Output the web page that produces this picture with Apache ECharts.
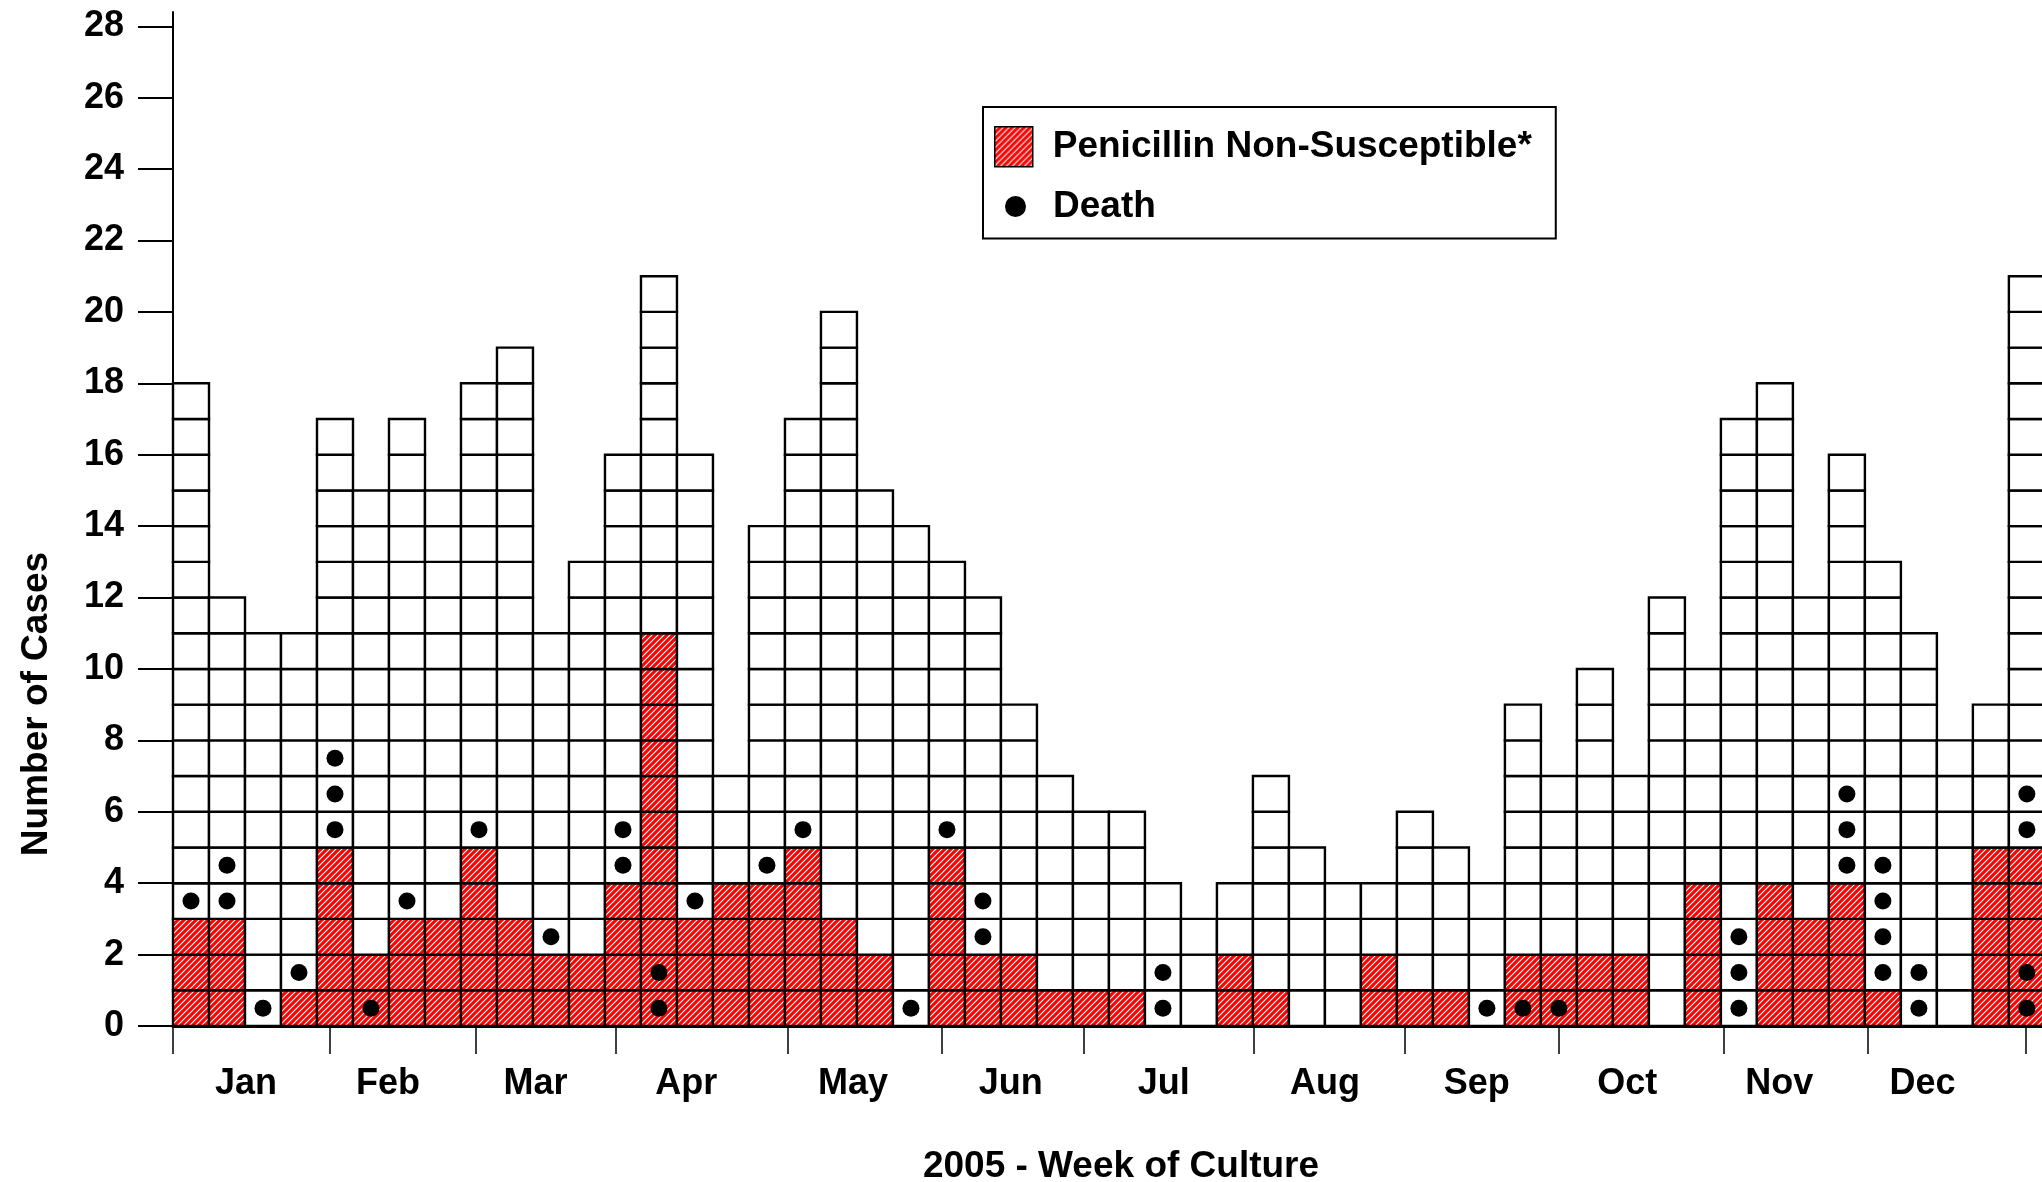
<!DOCTYPE html>
<html>
<head>
<meta charset="utf-8">
<title>Cases by week of culture, 2005</title>
<script src="https://cdn.jsdelivr.net/npm/echarts@6/dist/echarts.min.js"></script>
<style>
  html, body { margin: 0; padding: 0; background: #fff; }
  #chart { width: 2042px; height: 1182px; }
</style>
</head>
<body>
<div id="chart"></div>
<script>
  // cases per week of culture, 2005 (weeks 1..52)
  const totalCases = [18, 12, 11, 11, 17, 15, 17, 15, 18, 19, 11, 13, 16, 21, 16, 7, 14, 17, 20, 15,
    14, 13, 12, 9, 7, 6, 6, 4, 3, 4, 7, 5, 4, 4, 6, 5, 4, 9, 7, 10,
    7, 12, 10, 17, 18, 12, 16, 13, 11, 8, 9, 21]
  const pnsCases = [3, 3, 0, 1, 5, 2, 3, 3, 5, 3, 2, 2, 4, 11, 3, 4, 4, 5, 3, 2,
    0, 5, 2, 2, 1, 1, 1, 0, 0, 2, 1, 0, 0, 2, 1, 1, 0, 2, 2, 2,
    2, 0, 4, 0, 4, 3, 4, 1, 0, 0, 5, 5]
  // which cell (0 = bottom) of each week's stack is a death
  const deathCells = [[3], [3, 4], [0], [1], [5, 6, 7], [0], [3], [], [5], [], [2], [], [4, 5], [0, 1], [3], [], [4], [5], [], [],
    [0], [5], [2, 3], [], [], [], [], [0, 1], [], [], [], [], [], [], [], [], [0], [0], [0], [],
    [], [], [], [0, 1, 2], [], [], [4, 5, 6], [1, 2, 3, 4], [0, 1], [], [], [0, 1, 5, 6]]

  const monthNames = ['Jan', 'Feb', 'Mar', 'Apr', 'May', 'Jun', 'Jul', 'Aug', 'Sep', 'Oct', 'Nov', 'Dec']
  const monthTicks = [0, 4.35, 8.41, 12.3, 17.08, 21.36, 25.29, 30.03, 34.23, 38.49, 43.07, 47.08, 51.47]
  const monthLabelAt = [2.03, 5.97, 10.07, 14.26, 18.89, 23.27, 27.52, 32.0, 36.22, 40.4, 44.62, 48.6]
  const yTicks = [0, 2, 4, 6, 8, 10, 12, 14, 16, 18, 20, 22, 24, 26, 28]

  const font = '"Liberation Sans", Arial, sans-serif'

  function makeHatch() {
    const c = document.createElement('canvas')
    c.width = 6
    c.height = 6
    const ctx = c.getContext('2d')
    ctx.fillStyle = '#fff'
    ctx.fillRect(0, 0, 6, 6)
    ctx.strokeStyle = '#ff0000'
    ctx.lineWidth = 3.1
    ctx.beginPath()
    ctx.moveTo(-3, 3); ctx.lineTo(3, -3)
    ctx.moveTo(0, 6); ctx.lineTo(6, 0)
    ctx.moveTo(3, 9); ctx.lineTo(9, 3)
    ctx.stroke()
    return c
  }
  const hatch = { image: makeHatch(), repeat: 'repeat' }

  const cellData = totalCases.map((n, i) => [i, n, pnsCases[i]])
  const deathPoints = []
  deathCells.forEach((rows, i) => {
    rows.forEach(r => deathPoints.push([i + 0.5, r + 0.5]))
  })

  function nearestMonth(v) {
    let best = 0
    monthLabelAt.forEach((m, i) => {
      if (Math.abs(m - v) < Math.abs(monthLabelAt[best] - v)) best = i
    })
    return monthNames[best]
  }

  const chart = echarts.init(document.getElementById('chart'))
  chart.setOption({
    animation: false,
    textStyle: { fontFamily: font },
    grid: { left: 173, right: 0, top: 12, bottom: 156, outerBoundsMode: 'none' },
    legend: [
      {
        left: 983,
        top: 107,
        orient: 'vertical',
        selectedMode: false,
        itemWidth: 38,
        itemHeight: 40,
        padding: [19, 24, 71, 11],
        borderColor: '#000',
        borderWidth: 2,
        data: [{
          name: 'Penicillin Non-Susceptible*',
          icon: 'rect',
          itemStyle: { color: hatch, borderColor: '#000', borderWidth: 1.5 }
        }],
        textStyle: { fontSize: 37, fontWeight: 'bold', color: '#000', fontFamily: font, padding: [0, 0, 0, 15] }
      },
      {
        left: 1005,
        top: 188,
        selectedMode: false,
        itemWidth: 21,
        itemHeight: 21,
        padding: 0,
        data: [{ name: 'Death', icon: 'circle', itemStyle: { color: '#000', opacity: 1 } }],
        textStyle: { fontSize: 37, fontWeight: 'bold', color: '#000', fontFamily: font, padding: [0, 0, 0, 22] }
      }
    ],
    xAxis: {
      type: 'value',
      min: 0,
      max: 51.92,
      name: '2005 - Week of Culture',
      nameLocation: 'middle',
      nameGap: 122,
      nameTextStyle: { fontSize: 37, fontWeight: 'bold', color: '#000', padding: [0, 0, 0, 27] },
      axisLine: { show: true, lineStyle: { color: '#000', width: 3 } },
      axisTick: { show: true, length: 28, customValues: monthTicks, lineStyle: { color: '#000', width: 1.5 } },
      axisLabel: {
        customValues: monthLabelAt,
        formatter: v => nearestMonth(v),
        margin: 40,
        fontSize: 36,
        fontWeight: 'bold',
        color: '#000'
      },
      splitLine: { show: false }
    },
    yAxis: {
      type: 'value',
      min: 0,
      max: 28.4,
      name: 'Number of Cases',
      nameLocation: 'middle',
      nameGap: 118,
      nameTextStyle: { fontSize: 37, fontWeight: 'bold', color: '#000', padding: [0, 370, 0, 0] },
      axisLine: { show: true, lineStyle: { color: '#000', width: 2 } },
      axisTick: { show: true, length: 35, customValues: yTicks, lineStyle: { color: '#000', width: 2 } },
      axisLabel: { customValues: yTicks, margin: 49, fontSize: 36, fontWeight: 'bold', color: '#000' },
      splitLine: { show: false }
    },
    series: [
      {
        type: 'custom',
        name: 'Penicillin Non-Susceptible*',
        data: cellData,
        encode: { x: 0, y: 1 },
        silent: true,
        renderItem(params, api) {
          const week = api.value(0)
          const n = api.value(1)
          const red = api.value(2)
          const children = []
          for (let j = 0; j < n; j++) {
            const p0 = api.coord([week, j + 1])
            const p1 = api.coord([week + 1, j])
            children.push({
              type: 'rect',
              shape: { x: p0[0], y: p0[1], width: p1[0] - p0[0], height: p1[1] - p0[1] },
              style: { fill: j < red ? hatch : '#fff', stroke: '#000', lineWidth: 2.4 }
            })
          }
          return { type: 'group', children }
        }
      },
      {
        type: 'scatter',
        name: 'Death',
        data: deathPoints,
        symbol: 'circle',
        symbolSize: 17,
        silent: true,
        itemStyle: { color: '#000', opacity: 1 },
        z: 5
      }
    ]
  })
</script>
</body>
</html>
